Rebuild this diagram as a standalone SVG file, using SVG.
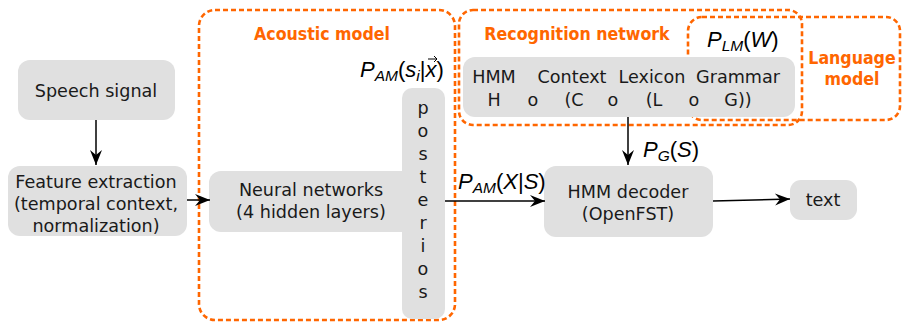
<svg xmlns="http://www.w3.org/2000/svg" width="906" height="323" viewBox="0 0 906 323">
<defs>
<marker id="arr" markerWidth="20" markerHeight="14" viewBox="-16 -7 17 14" refX="0" refY="0" orient="auto" markerUnits="userSpaceOnUse">
<path d="M0,0 L-15,-6 L-10,0 L-15,6 Z" fill="#000"/>
</marker>
<style>
.box{fill:#e0e0e0;stroke:none}
.t{font-family:"DejaVu Sans",Verdana,sans-serif;font-size:17.6px;fill:#1a1a1a;text-anchor:middle}
.lab{font-family:"DejaVu Sans Condensed","DejaVu Sans",sans-serif;font-weight:bold;font-size:17.6px;fill:#ff6600;text-anchor:middle}
.m{font-family:"Liberation Sans",Arial,sans-serif;font-style:italic;font-size:22px;fill:#000}
.sub{font-size:15.5px}
.grp{fill:none;stroke:#ff6600;stroke-width:2.6;stroke-dasharray:5,3}
.c{stroke:#000;stroke-width:1.5;fill:none}
</style>
</defs>

<g id="acoustic-model">
<rect class="grp" x="199" y="10" width="256" height="310" rx="16"/>
<text class="lab" x="322" y="40">Acoustic model</text>
</g>
<g id="recognition-network">
<rect class="grp" x="459" y="10" width="343" height="115" rx="14"/>
<text class="lab" x="577" y="40">Recognition network</text>
</g>
<g id="language-model">
<rect class="grp" x="688" y="17" width="212" height="103" rx="14"/>
<text class="lab" x="852" y="64">Language</text>
<text class="lab" x="852" y="85">model</text>
</g>

<g id="speech-signal">
<rect class="box" x="18" y="60" width="157" height="60" rx="12"/>
<text class="t" x="96" y="97">Speech signal</text>
</g>
<g id="feature-extraction">
<rect class="box" x="8" y="166" width="179" height="70" rx="12"/>
<text class="t" x="96" y="188">Feature extraction</text>
<text class="t" x="96" y="210">(temporal context,</text>
<text class="t" x="96" y="232">normalization)</text>
</g>
<g id="neural-networks">
<rect class="box" x="209" y="171" width="205" height="61" rx="12"/>
<text class="t" x="311" y="196">Neural networks</text>
<text class="t" x="311" y="218">(4 hidden layers)</text>
</g>
<g id="posteriors">
<rect class="box" x="402" y="88" width="43" height="231" rx="10"/>
<text class="t" x="423" y="114">p</text>
<text class="t" x="423" y="137">o</text>
<text class="t" x="423" y="160">s</text>
<text class="t" x="423" y="183">t</text>
<text class="t" x="423" y="206">e</text>
<text class="t" x="423" y="229">r</text>
<text class="t" x="423" y="252">i</text>
<text class="t" x="423" y="275">o</text>
<text class="t" x="423" y="298">s</text>
</g>
<g id="p-am-si">
<text class="m" x="360" y="77">P<tspan class="sub" dy="4">AM</tspan><tspan dy="-4" font-style="normal">(</tspan>s<tspan class="sub" dy="4">i</tspan><tspan dy="-4" font-style="normal">|</tspan>x<tspan font-style="normal">)</tspan></text>
<path d="M428,59 L437,59 M434,56 L437,59 L434,62" stroke="#000" stroke-width="1" fill="none"/>
</g>
<g id="recognition-box">
<rect class="box" x="463" y="57" width="332" height="60" rx="12"/>
<text class="t" x="494" y="83">HMM</text>
<text class="t" x="572" y="83">Context</text>
<text class="t" x="652" y="83">Lexicon</text>
<text class="t" x="738" y="83">Grammar</text>
<text class="t" x="494" y="106">H</text>
<text class="t" x="533" y="106" font-size="13">o</text>
<text class="t" x="574" y="106">(C</text>
<text class="t" x="613" y="106" font-size="13">o</text>
<text class="t" x="654" y="106">(L</text>
<text class="t" x="694" y="106" font-size="13">o</text>
<text class="t" x="738" y="106">G))</text>
</g>
<g id="p-lm">
<text class="m" x="707" y="47">P<tspan class="sub" dy="4">LM</tspan><tspan dy="-4" font-style="normal">(</tspan>W<tspan font-style="normal">)</tspan></text>
</g>
<g id="hmm-decoder">
<rect class="box" x="544" y="166" width="169" height="71" rx="12"/>
<text class="t" x="628" y="198">HMM decoder</text>
<text class="t" x="628" y="220">(OpenFST)</text>
</g>
<g id="text-node">
<rect class="box" x="790" y="180" width="67" height="40" rx="11"/>
<text class="t" x="823" y="206">text</text>
</g>
<g id="p-g">
<text class="m" x="643" y="157">P<tspan class="sub" dy="4">G</tspan><tspan dy="-4" font-style="normal">(</tspan>S<tspan font-style="normal">)</tspan></text>
</g>
<g id="p-am-xs">
<text class="m" x="458" y="189">P<tspan class="sub" dy="4">AM</tspan><tspan dy="-4" font-style="normal">(</tspan>X<tspan font-style="normal">|</tspan>S<tspan font-style="normal">)</tspan></text>
</g>

<g id="connectors">
<path class="c" d="M96,120 L96,165" marker-end="url(#arr)"/>
<path class="c" d="M187,200 L210,200" marker-end="url(#arr)"/>
<path class="c" d="M628,117 L628,165" marker-end="url(#arr)"/>
<path class="c" d="M445,201 L545,201" marker-end="url(#arr)"/>
<path class="c" d="M713,201 L790,199" marker-end="url(#arr)"/>
</g>
</svg>
